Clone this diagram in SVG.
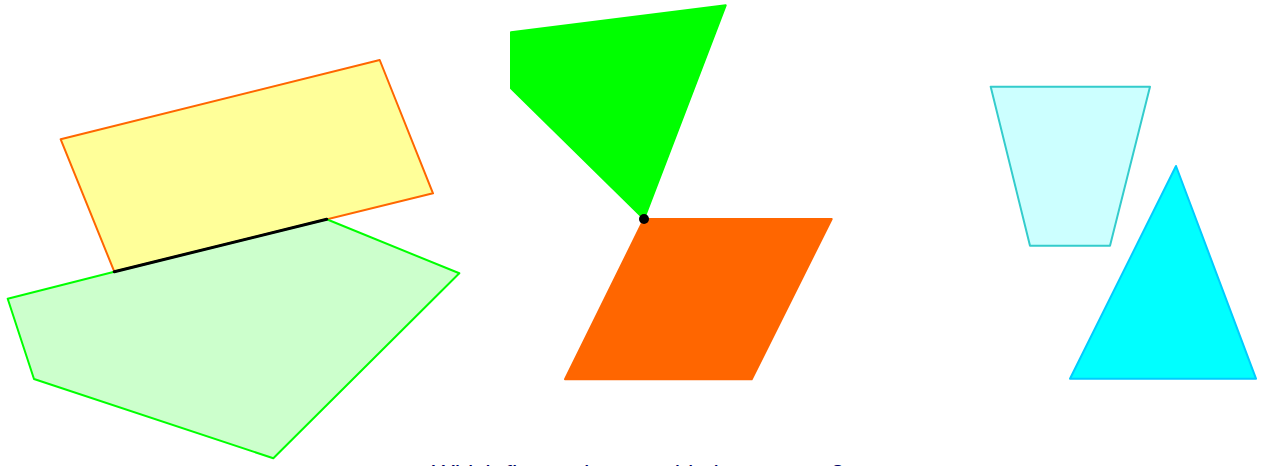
<svg xmlns="http://www.w3.org/2000/svg" width="1266" height="466" viewBox="0 0 1266 466">
<style>
.edge{stroke-width:2;stroke-linejoin:round}
.caption{font-family:"Liberation Sans",Arial,sans-serif;font-size:24px;fill:#000066}
</style>
<rect width="1266" height="466" fill="#ffffff"/>
<g id="pair-edge">
  <g id="yellow-rect"><polygon class="edge" points="60.7,139.3 379.7,60 433,193.3 114.3,271.7" fill="#ffff99" stroke="#ff6600"/></g>
  <g id="green-poly"><polygon class="edge" points="114.3,271.7 326.7,219.3 459.3,273.3 273.3,458.3 34,379 7.7,298.7" fill="#ccffcc" stroke="#00ff00"/></g>
</g>
<g id="pair-vertex">
  <g id="green-quad"><polygon class="edge" points="511,32.3 725.7,5.3 644,219 511,88.3" fill="#00ff00" stroke="#00ff00"/></g>
  <g id="orange-para"><polygon class="edge" points="644,219 831.7,219 751.7,379.3 565,379.3" fill="#ff6600" stroke="#ff6600"/></g>
</g>
<g id="pair-none">
  <g id="trapezoid"><polygon class="edge" points="990.7,86.7 1150,86.7 1110,245.7 1030,245.7" fill="#ccffff" stroke="#33cccc"/></g>
  <g id="triangle"><polygon class="edge" points="1176,166 1256,378.7 1070,378.7" fill="#00ffff" stroke="#00ccff"/></g>
</g>
<g id="connectors">
  <line x1="114.3" y1="271.7" x2="326.7" y2="219.3" stroke="#000000" stroke-width="3" stroke-linecap="round"/>
  <circle cx="644" cy="219" r="5" fill="#000000"/>
</g>
<text class="caption" x="432" y="482">Which figures have a side in common?</text>
</svg>
